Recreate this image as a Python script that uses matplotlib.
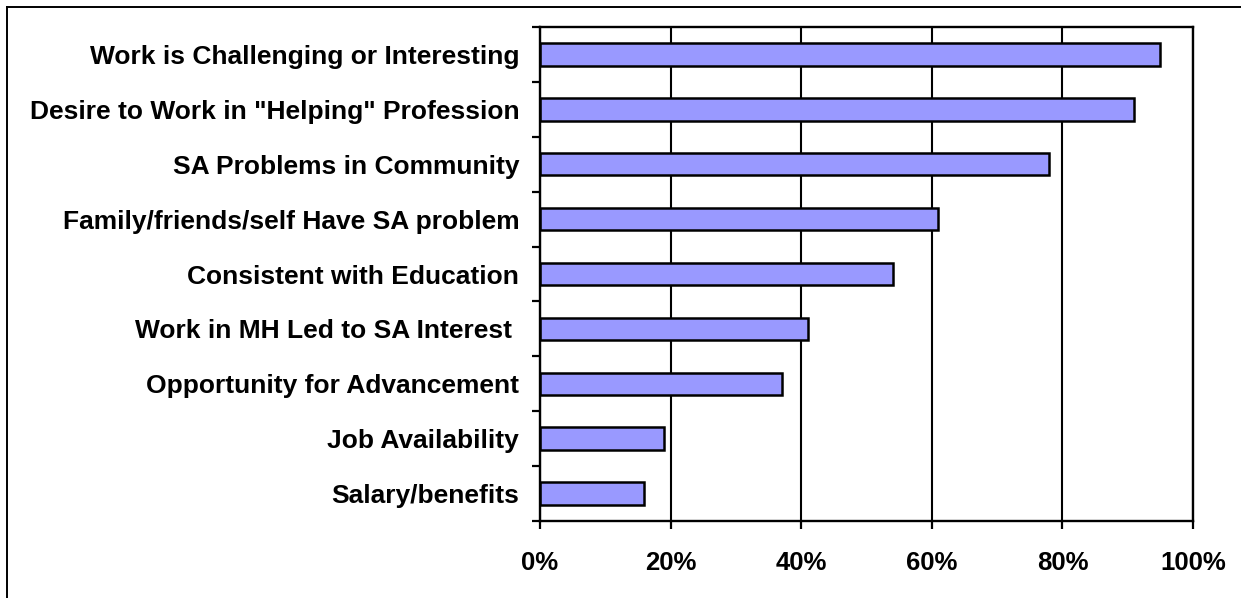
import matplotlib
matplotlib.use("Agg")
import matplotlib.pyplot as plt
from matplotlib.lines import Line2D
from matplotlib.ticker import FixedLocator, PercentFormatter

plt.rcParams['font.family'] = ['Liberation Sans', 'DejaVu Sans']

# Reasons for working in substance abuse treatment (share of respondents)
reasons = [
    "Work is Challenging or Interesting",
    "Desire to Work in \"Helping\" Profession",
    "SA Problems in Community",
    "Family/friends/self Have SA problem",
    "Consistent with Education",
    "Work in MH Led to SA Interest ",
    "Opportunity for Advancement",
    "Job Availability",
    "Salary/benefits",
]
percent = [95, 91, 78, 61, 54, 41, 37, 19, 16]
x_ticks = [0, 20, 40, 60, 80, 100]

W, H = 1241, 598
fig = plt.figure(figsize=(W / 100, H / 100), dpi=100)
ax = fig.add_axes([540 / W, 1 - 521 / H, (1193 - 540) / W, (521 - 27) / H])

pos = list(range(len(reasons)))
ax.barh(pos, percent, height=0.41, color="#9999FF", edgecolor="black",
        linewidth=1.8, zorder=3)

ax.set_xlim(0, 100)
ax.set_ylim(len(reasons) - 0.5, -0.5)

# x axis: percent ticks with vertical gridlines
ax.xaxis.set_major_locator(FixedLocator(x_ticks))
ax.xaxis.set_major_formatter(PercentFormatter(decimals=0))
ax.grid(axis="x", color="black", linewidth=1.5, zorder=1)
ax.tick_params(axis="x", which="major", direction="out", length=5.8,
               width=1.6, pad=16, labelsize=18.5)
for lab in ax.get_xticklabels():
    lab.set_fontweight("bold")

# y axis: tick marks between categories, labels centred on bars
ax.yaxis.set_major_locator(FixedLocator([p - 0.5 for p in range(len(reasons) + 1)]))
ax.yaxis.set_major_formatter(plt.NullFormatter())
ax.yaxis.set_minor_locator(FixedLocator(pos))
ax.set_yticklabels(reasons, minor=True, fontsize=19, fontweight="bold")
ax.tick_params(axis="y", which="major", direction="out", length=5.8, width=1.6)
ax.tick_params(axis="y", which="minor", length=0, pad=15)

for sp in ax.spines.values():
    sp.set_linewidth(1.7)
    sp.set_zorder(4)

# chart area frame
fx = 7 / W
fy = 1 - 7 / H
fig.add_artist(Line2D([fx, 1.0], [fy, fy], transform=fig.transFigure,
                      color="black", linewidth=1.4))
fig.add_artist(Line2D([fx, fx], [0.0, fy], transform=fig.transFigure,
                      color="black", linewidth=1.4))

fig.savefig("out.png", dpi=100, facecolor="white")
